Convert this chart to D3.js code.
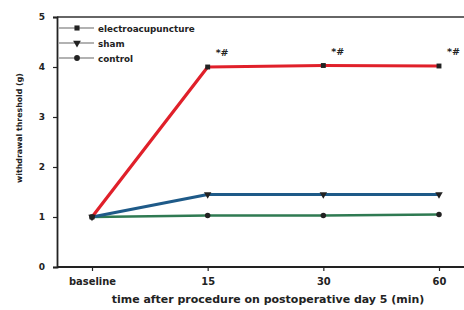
<!DOCTYPE html>
<html><head><meta charset="utf-8">
<script src="https://cdn.jsdelivr.net/npm/d3@7"></script>
<style>body{margin:0;background:#fff}svg{display:block}</style>
</head><body>
<svg id="c" width="464" height="310"></svg>
<script>
const categories = ["baseline", "15", "30", "60"];
const yTicks = [0, 1, 2, 3, 4, 5];
const seriesNames = ["electroacupuncture", "sham", "control"];
const eaValues = [1.0, 4.0, 4.03, 4.02];
const shamValues = [1.0, 1.45, 1.45, 1.45];
const controlValues = [1.0, 1.03, 1.03, 1.05];
const sigLabels = ["", "*#", "*#", "*#"];

const FONT = "DejaVu Sans, sans-serif";
const svg = d3.select("#c");
const m = {l: 57, t: 17, b: 43};
const W = 464, H = 310;
const x = d3.scalePoint().domain(categories).range([92, 439]);
const y = d3.scaleLinear().domain([0, 5]).range([H - m.b, m.t]);

function fitSize(txt, size, target) {
  const t = svg.append("text").attr("font-family", FONT).attr("font-weight", "bold")
    .attr("font-size", size).text(txt);
  const w = t.node().getComputedTextLength();
  t.remove();
  return w > 0 ? size * target / w : size;
}

const series = [
  {name: seriesNames[0], values: eaValues, color: "#e0202a", w: 3.2, shape: d3.symbolSquare},
  {name: seriesNames[1], values: shamValues, color: "#1e5a88", w: 3.2, shape: d3.symbolTriangle, flip: true},
  {name: seriesNames[2], values: controlValues, color: "#2f7a52", w: 2.6, shape: d3.symbolCircle}
];

svg.append("line").attr("x1", m.l).attr("x2", W).attr("y1", y(5)).attr("y2", y(5))
  .attr("stroke", "#333").attr("stroke-width", 1.5);

const ya = svg.append("g").attr("transform", `translate(${m.l},0)`)
  .call(d3.axisLeft(y).tickValues(yTicks).tickSize(4).tickPadding(8).tickFormat(d3.format("d")));
const xa = svg.append("g").attr("transform", `translate(0,${y(0)})`)
  .call(d3.axisBottom(x).tickSize(4).tickPadding(7));
xa.select(".domain").attr("d", `M${m.l},0H${W}`);
[ya, xa].forEach(g => {
  g.selectAll(".domain").attr("stroke", "#222").attr("stroke-width", 1.8);
  g.selectAll(".tick line").attr("stroke", "#222").attr("stroke-width", 1.2);
  g.selectAll(".tick text").attr("fill", "#222").attr("font-family", FONT)
    .attr("font-size", 9).attr("font-weight", "bold");
});
xa.selectAll(".tick text").attr("font-size", fitSize("baseline", 10, 47));

const line = d3.line().x((d, i) => x(categories[i])).y(d => y(d));
series.slice().reverse().forEach(s => {
  svg.append("path").datum(s.values).attr("d", line).attr("fill", "none")
    .attr("stroke", s.color).attr("stroke-width", s.w).attr("stroke-linejoin", "round");
});
series.forEach(s => {
  svg.selectAll(null).data(s.values).enter().append("path")
    .attr("d", d3.symbol().type(s.shape).size(24))
    .attr("transform", (d, i) => `translate(${x(categories[i])},${y(d)})${s.flip ? " rotate(180)" : ""}`)
    .attr("fill", "#222");
});

svg.selectAll(null).data(eaValues).enter().append("text")
  .attr("x", (d, i) => x(categories[i]) + 8).attr("y", d => y(d) - 11)
  .text((d, i) => sigLabels[i])
  .attr("font-family", FONT).attr("font-size", 9.5).attr("font-weight", "bold")
  .attr("fill", "#222");

const legSize = fitSize(seriesNames[0], 10, 97);
series.forEach((s, i) => {
  const ly = 28 + i * 15;
  const g = svg.append("g");
  g.append("line").attr("x1", 59).attr("x2", 94).attr("y1", ly).attr("y2", ly)
    .attr("stroke", "#666").attr("stroke-width", 1.2);
  g.append("path").attr("d", d3.symbol().type(s.shape).size(26)())
    .attr("transform", `translate(77,${ly})${s.flip ? " rotate(180)" : ""}`).attr("fill", "#222");
  g.append("text").attr("x", 98).attr("y", ly + 3.5).text(s.name)
    .attr("font-family", FONT).attr("font-size", legSize).attr("font-weight", "bold")
    .attr("fill", "#222");
});

const ylText = "withdrawal threshold (g)";
svg.append("text").attr("transform", `translate(22,128) rotate(-90)`)
  .attr("text-anchor", "middle").text(ylText)
  .attr("font-family", FONT).attr("font-size", fitSize(ylText, 9, 110)).attr("font-weight", "bold").attr("fill", "#222");
const xlText = "time after procedure on postoperative day 5 (min)";
svg.append("text").attr("x", 268).attr("y", 303).attr("text-anchor", "middle")
  .text(xlText)
  .attr("font-family", FONT).attr("font-size", fitSize(xlText, 10, 313)).attr("font-weight", "bold").attr("fill", "#222");
</script>
</body></html>
